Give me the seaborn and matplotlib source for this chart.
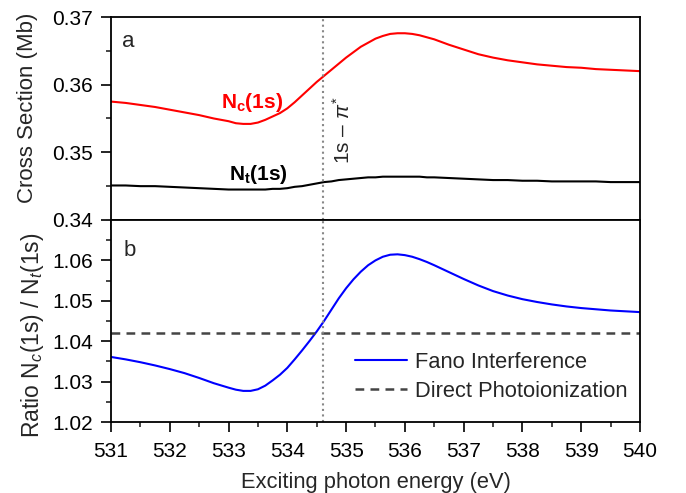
import numpy as np
import pandas as pd
import seaborn as sns
import matplotlib.pyplot as plt
from matplotlib.ticker import MultipleLocator


# photon energies (eV) at which the curves were read off
# (finer steps through the resonance region)
energy = [531.0, 531.25, 531.5, 531.75, 532.0, 532.25, 532.5, 532.75,
          533.0, 533.125, 533.25, 533.375, 533.5, 533.625, 533.75, 533.875,
          534.0, 534.125, 534.25, 534.375, 534.5, 534.625, 534.75, 534.875,
          535.0, 535.125, 535.25, 535.375, 535.5, 535.625, 535.75, 535.875,
          536.0, 536.125, 536.25, 536.375, 536.5,
          536.75, 537.0, 537.25, 537.5, 537.75, 538.0, 538.25, 538.5,
          538.75, 539.0, 539.25, 539.5, 539.75, 540.0]

# Nc(1s) cross section (Mb)
nc_1s = [0.3575, 0.3573, 0.3570, 0.3567, 0.3563, 0.3559, 0.3555, 0.3550,
         0.3546, 0.3543, 0.3542, 0.3542, 0.3544, 0.3548, 0.3553, 0.3558,
         0.3565, 0.3574, 0.3584, 0.3594, 0.3604, 0.3613, 0.3622, 0.3631,
         0.3640, 0.3648, 0.3656, 0.3662, 0.3668, 0.3672, 0.3675, 0.3676,
         0.3676, 0.3675, 0.3673, 0.3670, 0.3667,
         0.3659, 0.3652, 0.3645, 0.3640, 0.3636, 0.3633, 0.3630, 0.3628,
         0.3626, 0.3625, 0.3623, 0.3622, 0.3621, 0.3620]

# Nt(1s) cross section (Mb)
nt_1s = [0.3451, 0.3451, 0.3450, 0.3450, 0.3449, 0.3448, 0.3447, 0.3446,
         0.3445, 0.3445, 0.3445, 0.3445, 0.3445, 0.3445, 0.3446, 0.3446,
         0.3447, 0.3449, 0.3450, 0.3452, 0.3454, 0.3456, 0.3457, 0.3459,
         0.3460, 0.3461, 0.3462, 0.3463, 0.3463, 0.3464, 0.3464, 0.3464,
         0.3464, 0.3464, 0.3464, 0.3463, 0.3463,
         0.3462, 0.3461, 0.3460, 0.3459, 0.3459, 0.3458, 0.3458, 0.3457,
         0.3457, 0.3457, 0.3457, 0.3456, 0.3456, 0.3456]

# ratio Nc/Nt with Fano interference
ratio_fano = [1.0361, 1.0355, 1.0348, 1.0340, 1.0331, 1.0321, 1.0309, 1.0296,
              1.0285, 1.0280, 1.0277, 1.0277, 1.0281, 1.0290, 1.0303, 1.0317,
              1.0334, 1.0355, 1.0377, 1.0400, 1.0424, 1.0450, 1.0478, 1.0506,
              1.0531, 1.0553, 1.0572, 1.0588, 1.0600, 1.0609, 1.0614, 1.0615,
              1.0613, 1.0609, 1.0603, 1.0596, 1.0588,
              1.0571, 1.0554, 1.0538, 1.0524, 1.0513, 1.0504, 1.0497, 1.0491,
              1.0486, 1.0482, 1.0479, 1.0476, 1.0474, 1.0472]

ratio_direct = 1.042
resonance = 534.6

df = pd.DataFrame({'energy': energy, 'Nc': nc_1s, 'Nt': nt_1s,
                   'ratio': ratio_fano})

sns.set_style('ticks')
plt.rcParams['font.family'] = ['Liberation Sans', 'DejaVu Sans']
plt.rcParams['mathtext.fontset'] = 'custom'
plt.rcParams['mathtext.rm'] = 'Liberation Sans'
plt.rcParams['mathtext.it'] = 'Liberation Sans:italic'
plt.rcParams['mathtext.bf'] = 'Liberation Sans:bold'

fig = plt.figure(figsize=(6.86, 4.93), dpi=100)
ax1 = fig.add_axes([0.1618, 0.5538, 0.7711, 0.4117])
ax2 = fig.add_axes([0.1618, 0.1440, 0.7711, 0.4098], sharex=ax1)

# top panel: cross sections
sns.lineplot(data=df, x='energy', y='Nc', ax=ax1, color='#ff0000', lw=1.5)
sns.lineplot(data=df, x='energy', y='Nt', ax=ax1, color='black', lw=1.5)
ax1.axvline(resonance, color='#888888', ls=':', lw=1.5)
ax1.set_ylim(0.34, 0.37)
ax1.yaxis.set_major_locator(MultipleLocator(0.01))
ax1.yaxis.set_minor_locator(MultipleLocator(0.005))
ax1.set_ylabel('Cross Section (Mb)', fontsize=16)
ax1.yaxis.set_label_coords(-0.138, 0.552)
ax1.set_xlabel('')
ax1.tick_params(axis='x', labelbottom=False)
ax1.text(0.021, 0.877, 'a', transform=ax1.transAxes, fontsize=16,
         va='center')
ax1.text(533.4, 0.3573, r'$\mathbf{N_c(1s)}$', color='#ff0000',
         fontsize=15, ha='center', va='center')
ax1.text(533.5, 0.3467, r'$\mathbf{N_t(1s)}$', color='black',
         fontsize=15, ha='center', va='center')
ax1.text(534.95, 0.3533, r'1s – $\pi^{*}$', rotation=90, fontsize=15,
         ha='center', va='center')

# bottom panel: ratio
sns.lineplot(data=df, x='energy', y='ratio', ax=ax2, color='#0000ff', lw=1.5,
             label='Fano Interference')
ax2.axhline(ratio_direct, color='#444444', ls=(0, (3.5, 2.5)), lw=1.8,
            label='Direct Photoionization')
ax2.axvline(resonance, color='#888888', ls=':', lw=1.5)
ax2.set_ylim(1.02, 1.07)
ax2.set_yticks([1.02, 1.03, 1.04, 1.05, 1.06])
ax2.yaxis.set_minor_locator(MultipleLocator(0.005))
ax2.set_ylabel(r'Ratio N$_c$(1s) / N$_t$(1s)', fontsize=16.5)
ax2.yaxis.set_label_coords(-0.122, 0.431)
ax2.set_xlabel('Exciting photon energy (eV)', fontsize=15.75, labelpad=8)
ax2.text(0.023, 0.851, 'b', transform=ax2.transAxes, fontsize=16,
         va='center')
ax2.set_xlim(531, 540)
ax2.xaxis.set_major_locator(MultipleLocator(1))
ax2.xaxis.set_minor_locator(MultipleLocator(0.5))
ax2.legend(loc='lower left', bbox_to_anchor=(0.461, 0.1), frameon=False,
           fontsize=15.75, handlelength=2.4, handletextpad=0.35,
           borderpad=0, borderaxespad=0, labelspacing=0.35)

for ax in (ax1, ax2):
    for s in ax.spines.values():
        s.set_visible(True)
        s.set_linewidth(1.3)
        s.set_color('black')
    ax.tick_params(which='major', direction='out', length=7, width=1.2,
                   labelsize=15, colors='black', bottom=True, left=True)
    ax.tick_params(which='minor', direction='out', length=3.6, width=1.2,
                   bottom=True, left=True)
    ax.tick_params(which='both', top=False, right=False)
    ax.tick_params(axis='x', which='major', pad=7.5)
    ax.tick_params(axis='y', which='major', pad=6)

fig.savefig('out.png', dpi=100)
